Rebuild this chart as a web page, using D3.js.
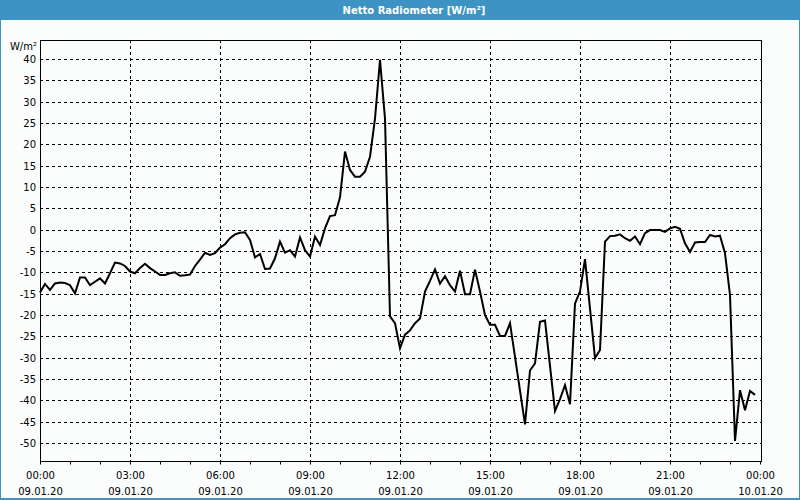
<!DOCTYPE html>
<html>
<head>
<meta charset="utf-8">
<script src="https://cdn.jsdelivr.net/npm/d3@7"></script>
<style>
  html, body { margin: 0; padding: 0; background: #ffffff; }
  svg { display: block; }
</style>
</head>
<body>
<svg id="chart" width="800" height="500"></svg>
<script>
// ---- data ----
const title = "Netto Radiometer [W/m²]";
const unitLabel = "W/m²";
const startTime = new Date(2020, 0, 9, 0, 0);
const endTime = new Date(2020, 0, 10, 0, 0);
const stepMinutes = 10;
const values = [
  -14.7, -12.7, -14.1, -12.6, -12.4, -12.5, -13.0, -14.9, -11.2, -11.2,
  -13.0, -12.2, -11.4, -12.6, -10.2, -7.7, -7.9, -8.5, -9.8, -10.2,
  -9.0, -8.0, -9.0, -9.8, -10.6, -10.6, -10.2, -10.0, -10.8, -10.7,
  -10.5, -8.5, -7.0, -5.4, -5.9, -5.5, -4.2, -3.4, -2.0, -1.1,
  -0.7, -0.6, -2.4, -6.5, -5.7, -9.2, -9.1, -6.7, -2.8, -5.4,
  -4.8, -6.3, -1.8, -4.8, -6.3, -1.6, -3.6, 0.3, 3.2, 3.4,
  7.6, 18.3, 14.0, 12.4, 12.4, 13.6, 17.1, 26.0, 39.8, 26.0,
  -20.3, -21.9, -27.8, -24.6, -23.6, -21.9, -20.8, -14.5, -12.0, -9.3,
  -12.6, -10.9, -13.0, -14.5, -9.6, -15.1, -15.1, -9.4, -14.5, -20.0,
  -22.3, -22.3, -24.9, -24.9, -21.9, -29.8, -37.7, -45.6, -33.0, -31.3,
  -21.6, -21.3, -31.9, -42.5, -39.7, -36.4, -40.9, -17.3, -14.5, -6.9,
  -18.5, -30.1, -28.2, -2.8, -1.5, -1.4, -1.1, -2.0, -2.6, -1.6,
  -3.4, -0.8, -0.1, -0.1, -0.1, -0.5, 0.3, 0.7, 0.2, -3.2,
  -5.2, -3.0, -2.9, -2.9, -1.2, -1.6, -1.4, -5.5, -15.3, -49.5,
  -37.6, -42.3, -37.8, -38.7
];
const yTicks = [40, 35, 30, 25, 20, 15, 10, 5, 0, -5, -10, -15, -20, -25, -30, -35, -40, -45, -50];
const yDomain = [-54.2, 44.45];
const xTickHours = [0, 3, 6, 9, 12, 15, 18, 21, 24];

// ---- layout ----
const W = 800, H = 500;
const plot = { left: 40, right: 761, top: 40, bottom: 461 };
const FONT = "'DejaVu Sans', Verdana, sans-serif";

const svg = d3.select("#chart");

// window background + borders
svg.append("rect").attr("x", 0).attr("y", 0).attr("width", W).attr("height", H).attr("fill", "#3c93c4");
svg.append("rect").attr("x", 1).attr("y", 20).attr("width", W - 2).attr("height", H - 22).attr("fill", "#fbfdfc");

// title
svg.append("text")
  .attr("x", 414).attr("y", 10)
  .attr("text-anchor", "middle").attr("dominant-baseline", "central")
  .attr("font-family", FONT).attr("font-size", 10).attr("font-weight", "bold")
  .attr("fill", "#ffffff")
  .text(title);

const x = d3.scaleTime().domain([startTime, endTime]).range([plot.left, plot.right - 1]);
const y = d3.scaleLinear().domain(yDomain).range([plot.bottom, plot.top]);

const data = values.map((v, i) => ({ t: new Date(startTime.getTime() + i * stepMinutes * 60000), v }));

const g = svg.append("g");

// horizontal grid
g.append("g").selectAll("line").data(yTicks).join("line")
  .attr("x1", plot.left).attr("x2", plot.right)
  .attr("y1", d => Math.round(y(d)) + 0.5).attr("y2", d => Math.round(y(d)) + 0.5)
  .attr("stroke", "#000").attr("stroke-width", 1).attr("stroke-dasharray", "3,3");

// vertical grid
const gridHours = xTickHours.filter(h => h > 0 && h < 24);
g.append("g").selectAll("line").data(gridHours).join("line")
  .attr("x1", h => Math.round(x(d3.timeHour.offset(startTime, h))) + 0.5)
  .attr("x2", h => Math.round(x(d3.timeHour.offset(startTime, h))) + 0.5)
  .attr("y1", plot.top).attr("y2", plot.bottom)
  .attr("stroke", "#000").attr("stroke-width", 1).attr("stroke-dasharray", "3,3");

// plot border
g.append("rect")
  .attr("x", plot.left + 0.5).attr("y", plot.top + 0.5)
  .attr("width", plot.right - plot.left).attr("height", plot.bottom - plot.top)
  .attr("fill", "none").attr("stroke", "#000").attr("stroke-width", 1);

// y labels
g.append("g").selectAll("text").data(yTicks).join("text")
  .attr("x", 36).attr("y", d => Math.round(y(d)) + 0.5)
  .attr("text-anchor", "end").attr("dominant-baseline", "central")
  .attr("font-family", FONT).attr("font-size", 10).attr("fill", "#000")
  .text(d => d);

svg.append("text")
  .attr("x", 37).attr("y", 46)
  .attr("text-anchor", "end").attr("dominant-baseline", "central")
  .attr("font-family", FONT).attr("font-size", 10).attr("fill", "#000")
  .text(unitLabel);

// x axis: hourly minor ticks
const hourTicks = d3.timeHour.range(startTime, d3.timeHour.offset(endTime, 1));
const xAxis = d3.axisBottom(x).tickValues(hourTicks).tickSize(3).tickFormat("");
const ax = svg.append("g").attr("transform", `translate(0.5,${plot.bottom + 0.5})`).call(xAxis);
ax.select(".domain").remove();
ax.selectAll("line").attr("stroke", "#000").attr("transform", function () {
  return null;
});
ax.selectAll(".tick").attr("transform", d => `translate(${Math.round(x(d))},0)`);

// x labels
const fmtTime = d3.timeFormat("%H:%M");
const fmtDate = d3.timeFormat("%d.%m.%y");
const xl = svg.append("g").selectAll("g").data(xTickHours).join("g")
  .attr("transform", h => `translate(${Math.round(x(d3.timeHour.offset(startTime, h))) + 0.5},0)`);
xl.append("text")
  .attr("y", 475).attr("text-anchor", "middle").attr("dominant-baseline", "central")
  .attr("font-family", FONT).attr("font-size", 10).attr("fill", "#000")
  .text(h => fmtTime(d3.timeHour.offset(startTime, h)));
xl.append("text")
  .attr("y", 491).attr("text-anchor", "middle").attr("dominant-baseline", "central")
  .attr("font-family", FONT).attr("font-size", 10).attr("fill", "#000")
  .text(h => fmtDate(d3.timeHour.offset(startTime, h)));

// data line
const line = d3.line().x(d => x(d.t)).y(d => y(d.v));
svg.append("path")
  .datum(data)
  .attr("d", line)
  .attr("fill", "none").attr("stroke", "#000").attr("stroke-width", 2)
  .attr("stroke-linejoin", "miter");
</script>
</body>
</html>
